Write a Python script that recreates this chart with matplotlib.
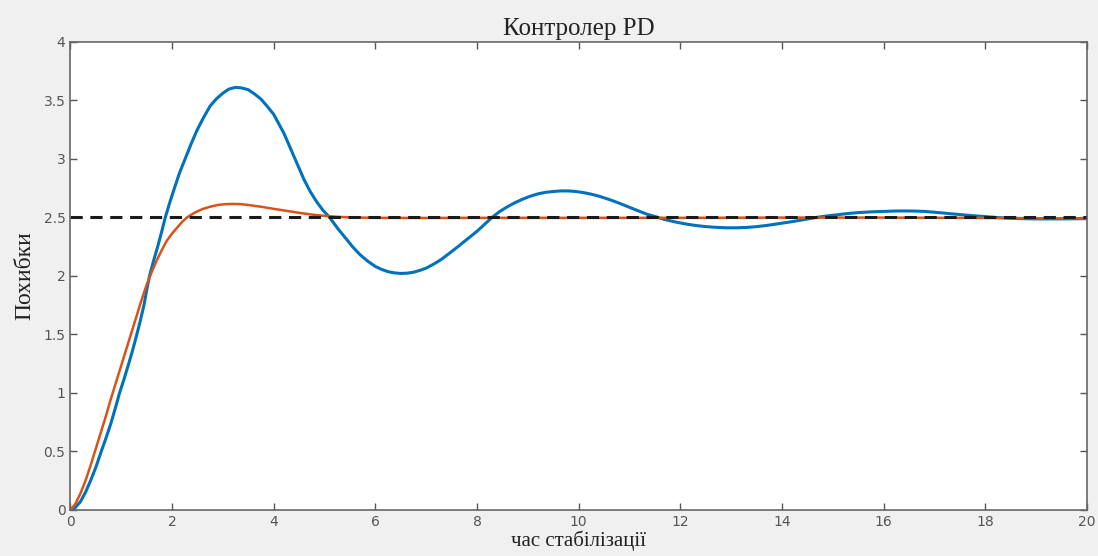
import matplotlib
matplotlib.use('Agg')
import matplotlib.pyplot as plt

# response with tuned PD (blue)
t_blue = [0.0, 0.1, 0.2, 0.3, 0.4, 0.5, 0.61, 0.7, 0.8, 0.9, 0.97, 1.06, 1.15, 1.23,
          1.31, 1.38, 1.45, 1.5, 1.56, 1.64, 1.72, 1.8, 1.87, 1.96, 2.05, 2.15, 2.26,
          2.38, 2.5, 2.62, 2.75, 2.87, 3.0, 3.12, 3.25, 3.37, 3.5, 3.62, 3.75, 3.87,
          4.0, 4.1, 4.2, 4.3, 4.4, 4.5, 4.6, 4.72, 4.85, 4.97, 5.1, 5.25, 5.4, 5.55,
          5.7, 5.85, 6.0, 6.12, 6.25, 6.37, 6.5, 6.62, 6.75, 6.87, 7.0, 7.15, 7.3,
          7.45, 7.6, 7.8, 8.0, 8.15, 8.3, 8.45, 8.6, 8.75, 8.9, 9.05, 9.2, 9.35, 9.5,
          9.65, 9.8, 9.95, 10.1, 10.25, 10.4, 10.6, 10.8, 11.0, 11.2, 11.35, 11.55,
          11.7, 11.9, 12.1, 12.3, 12.5, 12.7, 12.9, 13.1, 13.3, 13.5, 13.7, 13.9,
          14.1, 14.3, 14.5, 14.7, 14.9, 15.1, 15.3, 15.5, 15.75, 16.0, 16.2, 16.4,
          16.6, 16.8, 17.0, 17.2, 17.4, 17.6, 17.8, 18.0, 18.25, 18.5, 18.75, 19.0,
          19.5, 20.0]
y_blue = [0.0, 0.02, 0.07, 0.15, 0.25, 0.36, 0.5, 0.61, 0.74, 0.89, 1.0, 1.12, 1.25, 1.37,
          1.5, 1.62, 1.75, 1.87, 2.0, 2.13, 2.25, 2.38, 2.5, 2.63, 2.75, 2.88, 3.0,
          3.13, 3.25, 3.35, 3.45, 3.51, 3.56, 3.595, 3.61, 3.605, 3.59, 3.555, 3.51, 3.45,
          3.38, 3.3, 3.22, 3.12, 3.02, 2.92, 2.82, 2.72, 2.63, 2.56, 2.5, 2.41, 2.33, 2.25,
          2.18, 2.125, 2.08, 2.055, 2.035, 2.025, 2.02, 2.022, 2.03, 2.045, 2.065, 2.1, 2.14,
          2.19, 2.24, 2.31, 2.38, 2.44, 2.5, 2.55, 2.59, 2.625, 2.655, 2.68, 2.7, 2.713, 2.72,
          2.725, 2.725, 2.72, 2.71, 2.697, 2.68, 2.652, 2.62, 2.585, 2.55, 2.525, 2.5,
          2.48, 2.46, 2.443, 2.43, 2.42, 2.414, 2.41, 2.41, 2.413, 2.42, 2.43, 2.443,
          2.456, 2.47, 2.485, 2.5, 2.512, 2.522, 2.532, 2.54, 2.546, 2.55, 2.553, 2.554,
          2.553, 2.55, 2.543, 2.535, 2.527, 2.519, 2.512, 2.505, 2.497, 2.491, 2.488, 2.486,
          2.486, 2.488]

# response with other PD settings (orange)
t_orange = [0.0, 0.1, 0.2, 0.3, 0.4, 0.5, 0.6, 0.7, 0.8, 0.9, 1.0, 1.1, 1.2, 1.3, 1.4,
            1.5, 1.6, 1.7, 1.8, 1.9, 2.0, 2.1, 2.2, 2.3, 2.45, 2.6, 2.75, 2.9, 3.05,
            3.2, 3.35, 3.5, 3.75, 4.0, 4.25, 4.5, 4.75, 5.0, 5.25, 5.5, 6.0, 7.0, 8.0,
            10.0, 12.0, 14.0, 16.0, 18.0, 20.0]
y_orange = [0.0, 0.05, 0.14, 0.25, 0.38, 0.52, 0.66, 0.8, 0.95, 1.09, 1.23, 1.37, 1.51,
            1.65, 1.79, 1.92, 2.03, 2.13, 2.22, 2.3, 2.36, 2.41, 2.46, 2.5, 2.54, 2.57,
            2.59, 2.605, 2.612, 2.614, 2.612, 2.605, 2.59, 2.572, 2.555, 2.538, 2.523,
            2.512, 2.504, 2.499, 2.495, 2.494, 2.495, 2.495, 2.495, 2.497, 2.497, 2.494,
            2.49]

setpoint = 2.5
x_ticks = [0, 2, 4, 6, 8, 10, 12, 14, 16, 18, 20]
y_ticks = [0, 0.5, 1, 1.5, 2, 2.5, 3, 3.5, 4]
y_tick_labels = ['0', '0.5', '1', '1.5', '2', '2.5', '3', '3.5', '4']

fig = plt.figure(figsize=(10.98, 5.56), dpi=100, facecolor='#f0f0f0')
ax = fig.add_axes([0.064, 0.083, 0.926, 0.842])
ax.set_facecolor('white')

ax.plot(t_blue, y_blue, color='#0072BD', lw=2.2)
ax.plot(t_orange, y_orange, color='#D95319', lw=1.8)
ax.axhline(setpoint, color='#1a1a1a', lw=2.2, ls=(0, (4, 2.5)))

ax.set_xlim(0, 20)
ax.set_ylim(0, 4)
ax.set_xticks(x_ticks)
ax.set_yticks(y_ticks)
ax.set_yticklabels(y_tick_labels)
ax.tick_params(direction='in', length=5, width=1, top=True, right=True,
               colors='#555555', labelcolor='#555555', labelsize=10)
for s in ax.spines.values():
    s.set_color('#666666')
    s.set_linewidth(1.2)

serif = ['Liberation Serif', 'DejaVu Serif']
ax.set_title('Контролер PD', family=serif, fontsize=18, color='#222222', pad=5)
ax.set_ylabel('Похибки', family=serif, fontsize=17, color='#222222', labelpad=6)
ax.set_xlabel('час стабілізації', family=serif, fontsize=15, color='#222222', labelpad=1)

fig.savefig('out.png', dpi=100, facecolor=fig.get_facecolor())
